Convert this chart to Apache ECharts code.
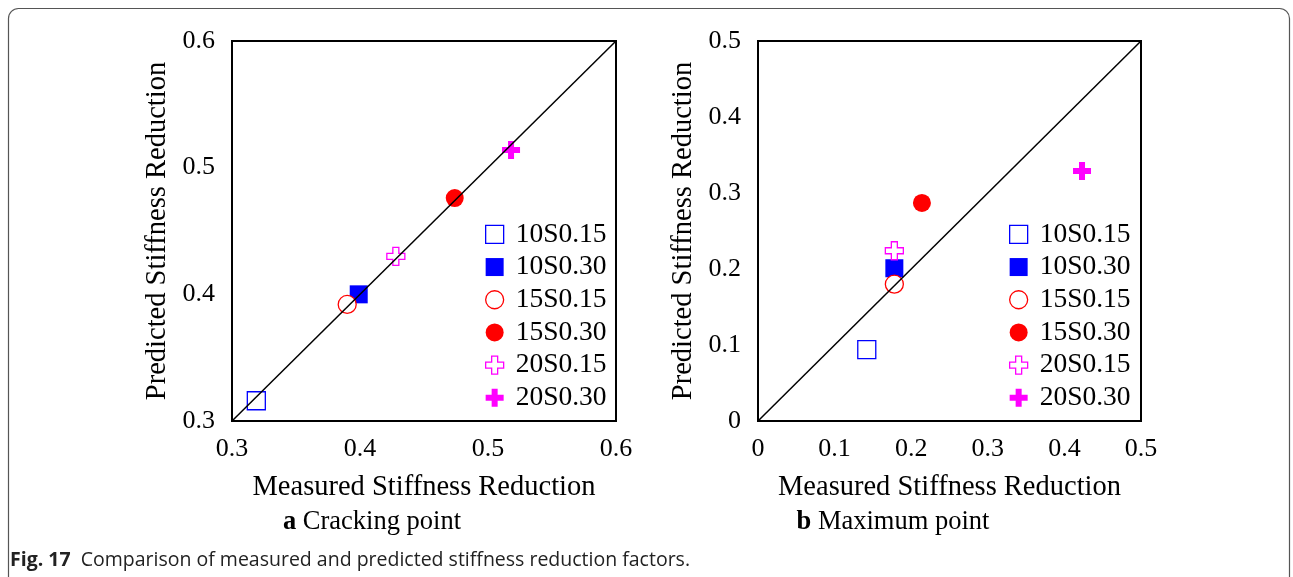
<!DOCTYPE html>
<html>
<head>
<meta charset="utf-8">
<script src="https://cdn.jsdelivr.net/npm/echarts@6/dist/echarts.min.js"></script>
<style>
html,body{margin:0;padding:0;background:#fff;}
#chart{width:1293px;height:577px;}
</style>
</head>
<body>
<div id="chart"></div>
<script>
// ---- data ----
var seriesNames = ['10S0.15', '10S0.30', '15S0.15', '15S0.30', '20S0.15', '20S0.30'];
// Cracking point (a): [measured, predicted]
var crack_10S015 = [[0.319, 0.316]];
var crack_10S030 = [[0.399, 0.400]];
var crack_15S015 = [[0.390, 0.392]];
var crack_15S030 = [[0.474, 0.476]];
var crack_20S015 = [[0.428, 0.430]];
var crack_20S030 = [[0.518, 0.514]];
// Maximum point (b): [measured, predicted]
var max_10S015 = [[0.142, 0.094]];
var max_10S030 = [[0.178, 0.201]];
var max_15S015 = [[0.178, 0.180]];
var max_15S030 = [[0.214, 0.287]];
var max_20S015 = [[0.178, 0.224]];
var max_20S030 = [[0.423, 0.329]];
// equality lines
var lineA = [[0.3, 0.3], [0.6, 0.6]];
var lineB = [[0, 0], [0.5, 0.5]];
// tick labels
var ticksA = ['0.3', '0.4', '0.5', '0.6'];
var ticksB = ['0', '0.1', '0.2', '0.3', '0.4', '0.5'];
var xTitle = 'Measured Stiffness Reduction';
var yTitle = 'Predicted Stiffness Reduction';

var SERIF = '"Liberation Serif","Times New Roman",serif';
var SANS = '"Open Sans","Noto Sans",sans-serif';
var PLUS = 'path://M6,0H12V6H18V12H12V18H6V12H0V6H6Z';
var styles = [
  {symbol: 'rect', color: '#ffffff', border: '#0000ff', bw: 1.3},
  {symbol: 'rect', color: '#0000ff', border: '#0000ff', bw: 0},
  {symbol: 'circle', color: '#ffffff', border: '#ff0000', bw: 1.3},
  {symbol: 'circle', color: '#ff0000', border: '#ff0000', bw: 0},
  {symbol: PLUS, color: '#ffffff', border: '#ff00ff', bw: 1.3},
  {symbol: PLUS, color: '#ff00ff', border: '#ff00ff', bw: 0}
];
var dataA = [crack_10S015, crack_10S030, crack_15S015, crack_15S030, crack_20S015, crack_20S030];
var dataB = [max_10S015, max_10S030, max_15S015, max_15S030, max_20S015, max_20S030];

function fmt(ticks) {
  return function (v) {
    for (var i = 0; i < ticks.length; i++) {
      if (Math.abs(parseFloat(ticks[i]) - v) < 1e-6) return ticks[i];
    }
    return '';
  };
}

function mkX(idx, min, max, ticks) {
  return {
    gridIndex: idx, type: 'value', min: min, max: max, interval: 0.1,
    axisLine: {show: true, onZero: false, lineStyle: {color: '#000', width: 2}},
    axisTick: {show: false}, splitLine: {show: false},
    axisLabel: {formatter: fmt(ticks), color: '#000', fontFamily: SERIF, fontSize: 26, margin: 15},
    name: xTitle, nameLocation: 'middle', nameGap: 52,
    nameTextStyle: {color: '#000', fontFamily: SERIF, fontSize: 28.5}
  };
}
function mkY(idx, min, max, ticks) {
  return {
    gridIndex: idx, type: 'value', min: min, max: max, interval: 0.1,
    axisLine: {show: true, onZero: false, lineStyle: {color: '#000', width: 2}},
    axisTick: {show: false}, splitLine: {show: false},
    axisLabel: {formatter: fmt(ticks), color: '#000', fontFamily: SERIF, fontSize: 26, margin: 17},
    name: yTitle, nameLocation: 'middle', nameGap: 60,
    nameTextStyle: {color: '#000', fontFamily: SERIF, fontSize: 28.5}
  };
}

var series = [];
[dataA, dataB].forEach(function (d, g) {
  d.forEach(function (arr, i) {
    var s = styles[i];
    series.push({
      name: seriesNames[i], type: 'scatter', xAxisIndex: g, yAxisIndex: g,
      data: arr, symbol: s.symbol, symbolSize: 18, z: 2,
      itemStyle: {color: s.color, borderColor: s.border, borderWidth: s.bw, opacity: 1}
    });
  });
});
series.push({type: 'line', xAxisIndex: 0, yAxisIndex: 0, data: lineA, symbol: 'none', z: 5,
  lineStyle: {color: '#000', width: 1.5}, silent: true});
series.push({type: 'line', xAxisIndex: 1, yAxisIndex: 1, data: lineB, symbol: 'none', z: 5,
  lineStyle: {color: '#000', width: 1.5}, silent: true});

function mkLegend(left) {
  return {
    data: seriesNames.map(function (n, i) {
      return {name: n, icon: styles[i].symbol,
        itemStyle: {color: styles[i].color, borderColor: styles[i].border, borderWidth: styles[i].bw}};
    }),
    orient: 'vertical', left: left, top: 213, itemWidth: 18, itemHeight: 18, itemGap: 0,
    selectedMode: false,
    textStyle: {color: '#000', fontFamily: SERIF, fontSize: 27.5, lineHeight: 32.7, padding: [0, 0, 0, 7]}
  };
}

var chart = echarts.init(document.getElementById('chart'), null, {renderer: 'canvas'});
chart.setOption({
  animation: false,
  backgroundColor: '#fff',
  grid: [
    {left: 232, top: 41, width: 384, height: 380, show: true, borderColor: '#000', borderWidth: 2, backgroundColor: 'transparent'},
    {left: 758, top: 41, width: 383, height: 380, show: true, borderColor: '#000', borderWidth: 2, backgroundColor: 'transparent'}
  ],
  xAxis: [mkX(0, 0.3, 0.6, ticksA), mkX(1, 0, 0.5, ticksB)],
  yAxis: [mkY(0, 0.3, 0.6, ticksA), mkY(1, 0, 0.5, ticksB)],
  legend: [mkLegend(480), mkLegend(1004)],
  series: series,
  graphic: [
    {type: 'rect', shape: {x: 8.5, y: 8.5, width: 1281, height: 620, r: 10}, silent: true,
      style: {fill: 'none', stroke: '#555', lineWidth: 1.2}, z: -1},
    {type: 'text', x: 372, y: 522, style: {
      text: '{b|a} Cracking point', rich: {b: {fontWeight: 'bold', fontFamily: SERIF, fontSize: 26.5}},
      fontFamily: SERIF, fontSize: 26.5, fill: '#000', align: 'center', verticalAlign: 'middle'}},
    {type: 'text', x: 893, y: 522, style: {
      text: '{b|b} Maximum point', rich: {b: {fontWeight: 'bold', fontFamily: SERIF, fontSize: 26.5}},
      fontFamily: SERIF, fontSize: 26.5, fill: '#000', align: 'center', verticalAlign: 'middle'}},
    {type: 'text', x: 10, y: 560, style: {
      text: '{b|Fig. 17}  Comparison of measured and predicted stiffness reduction factors.',
      rich: {b: {fontWeight: 'bold', fontFamily: SANS, fontSize: 19.5}},
      fontFamily: SANS, fontSize: 19.5, fill: '#222', align: 'left', verticalAlign: 'middle'}}
  ]
});
</script>
</body>
</html>
